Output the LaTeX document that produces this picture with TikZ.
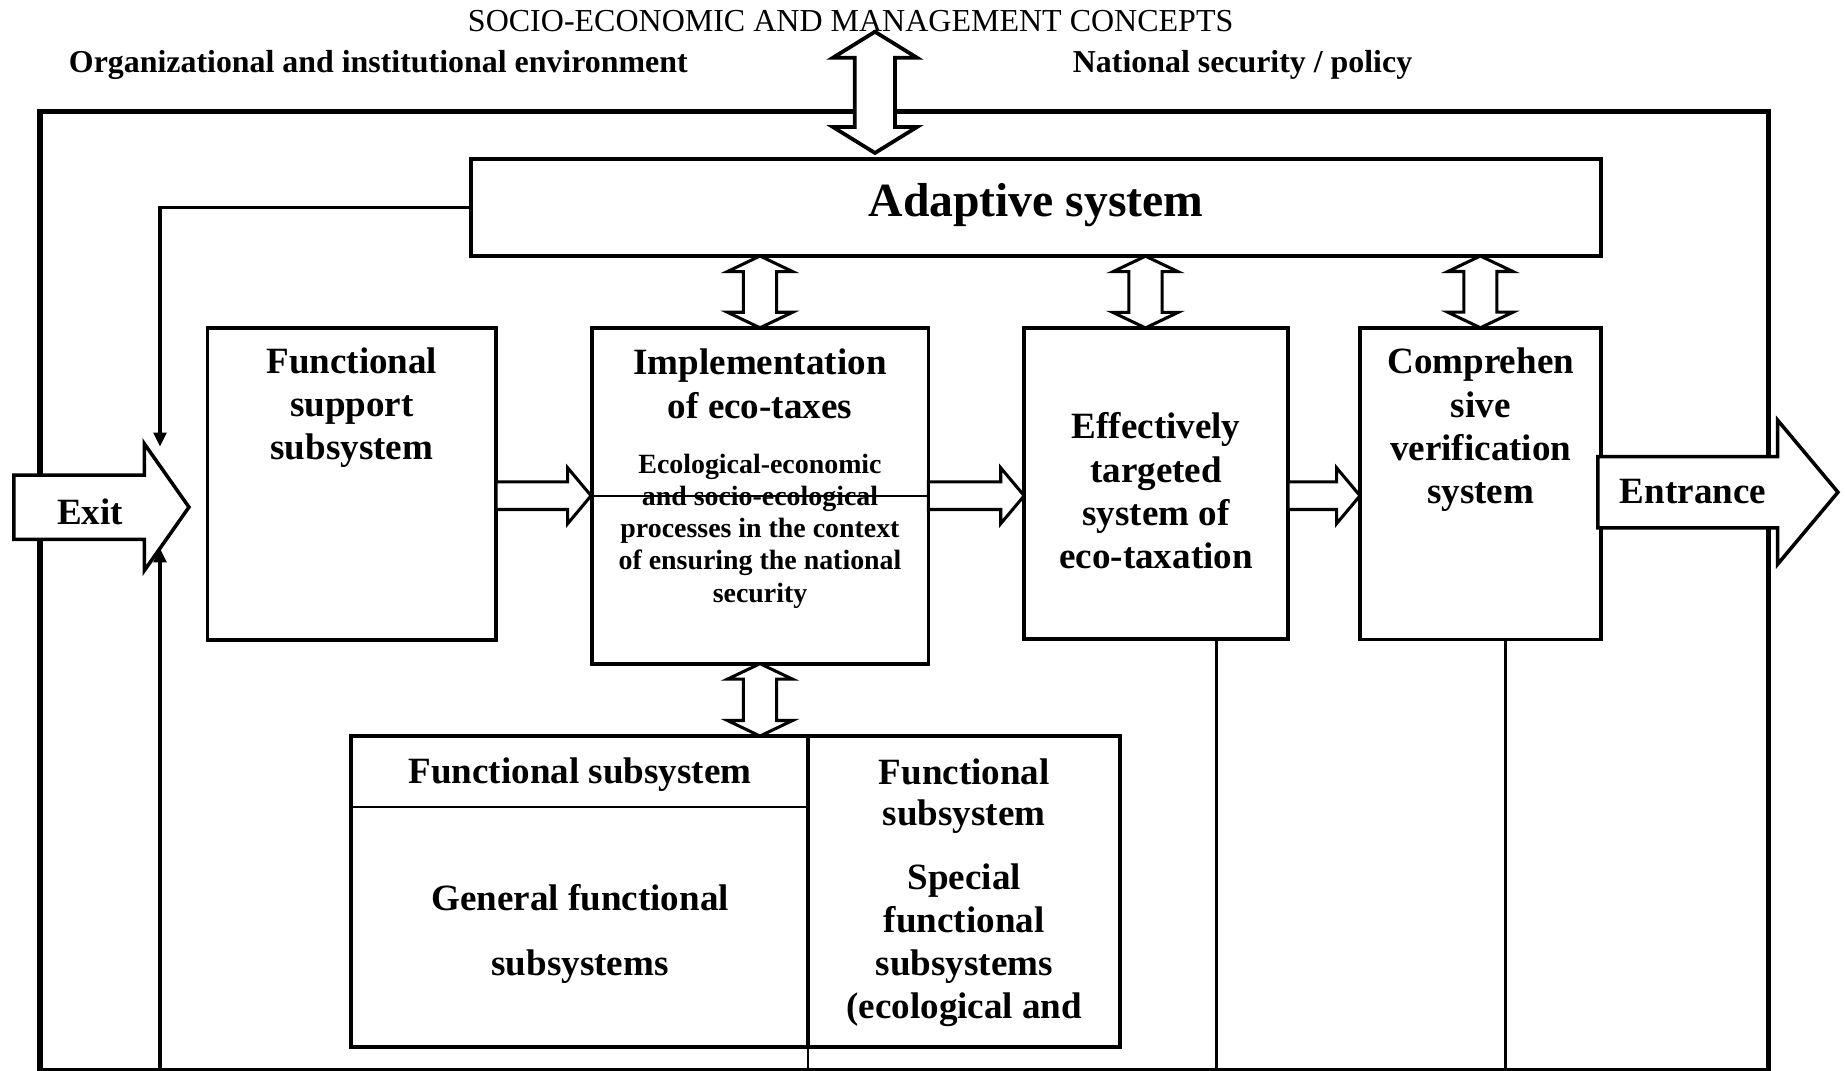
\documentclass[tikz,border=0pt]{standalone}
\usepackage{fontspec}
\setmainfont{Liberation Serif}
\usetikzlibrary{arrows.meta, shapes.arrows, calc}

\tikzset{
  box/.style={draw, line width=3.2pt, inner sep=0pt, outer sep=0pt},
  bigtext/.style={font=\fontsize{31.5}{36.8}\selectfont\bfseries, align=center, inner sep=0pt},
  smalltext/.style={font=\fontsize{23.7}{27.4}\selectfont\bfseries, align=center, inner sep=0pt},
  toptext/.style={font=\fontsize{27.1}{30}\selectfont\bfseries, inner sep=0pt},
  flowarrow/.style={single arrow, draw, fill=white, line width=2.6pt, inner sep=0pt, outer sep=0pt,
    inner ysep=10.4pt, single arrow head extend=12pt, minimum width=44.8pt,
    single arrow tip angle=100, anchor=tail, minimum height=#1},
  gatearrow/.style={single arrow, draw, fill=white, line width=3pt, inner sep=0pt, outer sep=0pt, anchor=tail},
  swaparrow/.style={double arrow, draw, fill=white, line width=2.6pt, inner sep=0pt, outer sep=0pt,
    inner ysep=12.8pt, double arrow head extend=13.6pt, minimum width=52.8pt,
    double arrow tip angle=129, minimum height=61pt, rotate=90},
  link/.style={line width=2.6pt},
  feed/.style={line width=2.6pt, -{Triangle[length=12pt, width=11pt]}}
}

\begin{document}
\begin{tikzpicture}[x=1pt, y=-1pt]
    \useasboundingbox (0,0) rectangle (1568,909.4);

    \node[box, line width=4.6pt, minimum width=1469pt, minimum height=815.3pt, anchor=north west] (frame) at (34,95) {};

    \node[font=\fontsize{27.2}{30}\selectfont, inner sep=0pt, anchor=base] (concepts) at (723,27) {SOCIO-ECONOMIC AND MANAGEMENT CONCEPTS};
    \node[toptext, anchor=base] (environment) at (321.5,61.4) {Organizational and institutional environment};
    \node[toptext, anchor=base] (policy) at (1056,61.4) {National security / policy};

    \node[box, minimum width=960pt, minimum height=82.2pt] (adaptive) at (880.5,176.5) {};
    \node[box, minimum width=245.3pt, minimum height=265.4pt] (support) at (299,411.2) {};
    \node[box, minimum width=286.2pt, minimum height=285.5pt] (ecotaxes) at (645.9,421.3) {};
    \node[box, minimum width=224.2pt, minimum height=264.2pt] (targeted) at (982.5,410.9) {};
    \node[box, minimum width=204.6pt, minimum height=265pt] (verification) at (1258.1,411) {};
    \node[box, minimum width=653.2pt, minimum height=264.5pt, anchor=north west] (functional) at (298.6,625.5) {};

    \node[swaparrow, line width=3.2pt, inner ysep=15.5pt, double arrow head extend=18.5pt, minimum width=68pt,
      double arrow tip angle=116.6, minimum height=103pt] (link_concepts) at (743.6,78.5) {};
    \node[swaparrow] (link_ecotaxes) at ($(adaptive.south -| ecotaxes.north)!0.5!(ecotaxes.north)$) {};
    \node[swaparrow] (link_targeted) at ($(adaptive.south -| targeted.north)!0.5!(targeted.north) + (-9,0)$) {};
    \node[swaparrow] (link_verification) at ($(adaptive.south -| verification.north)!0.5!(verification.north)$) {};
    \node[swaparrow, minimum height=61.5pt] (link_functional) at ($(ecotaxes.south)!0.5!(ecotaxes.south |- functional.north)$) {};

    \node[flowarrow=80.7pt] (to_ecotaxes) at (support.east |- ecotaxes.center) {};
    \node[flowarrow=81.4pt] (to_targeted) at (ecotaxes.east) {};
    \node[flowarrow=61.2pt] (to_verification) at (targeted.east |- ecotaxes.center) {};

    \node[gatearrow, inner ysep=25.8pt, single arrow head extend=26.6pt, minimum width=104.8pt,
      single arrow tip angle=109.7, minimum height=148.8pt] (exit) at (11.8,431) {};
    \node[gatearrow, inner ysep=28.75pt, single arrow head extend=31pt, minimum width=119.5pt,
      single arrow tip angle=100.1, minimum height=204pt] (entrance) at (1358,418.3) {};

    \coordinate (fb_in) at (136,379.6);
    \coordinate (fb_out) at (136,466);
    \draw[feed] (adaptive.west) -| (fb_in);
    \draw[feed] (fb_out |- frame.south) -- (fb_out);
    \draw[link] ([xshift=51.5pt]targeted.south) -- ([xshift=51.5pt]targeted.south |- frame.south);
    \draw[link] ([xshift=21.5pt]verification.south) -- ([xshift=21.5pt]verification.south |- frame.south);

    \coordinate (split) at (686.7,0);
    \coordinate (header) at (0,686);
    \draw[line width=3.2pt] (functional.north -| split) -- (functional.south -| split);
    \draw[line width=1.6pt] (functional.south -| split) -- (split |- frame.south);
    \draw[line width=2pt] (functional.west |- header) -- (split |- header);

    \node[inner sep=0pt, font=\fontsize{40.5}{44}\selectfont\bfseries] (adaptive_text) at (880.5,174.5) {Adaptive system};
    \node[bigtext] (support_text) at (299,346.5) {Functional\\support\\subsystem};
    \node[bigtext] (ecotaxes_title) at (645.9,326.2) {Implementation\\of eco-taxes};
    \node[smalltext] (ecotaxes_text) at (645.9,451.2) {Ecological-economic\\and socio-ecological\\processes in the context\\of ensuring the national\\security};
    \node[bigtext, font=\fontsize{31.5}{36.6}\selectfont\bfseries] (targeted_text) at (982.5,417) {Effectively\\targeted\\system of\\eco-taxation};
    \node[bigtext] (verification_text) at (1258.4,365.5) {Comprehen\\sive\\verification\\system};
    \node[bigtext] (exit_text) at (76.5,434.9) {Exit};
    \node[bigtext] (entrance_text) at (1438.8,417.8) {Entrance};
    \node[bigtext] (functional_head) at (493,658) {Functional subsystem};
    \node[bigtext, font=\fontsize{31.5}{55.2}\selectfont\bfseries] (general_text) at (493,794) {General functional\\subsystems};
    \node[bigtext, font=\fontsize{31.5}{35.4}\selectfont\bfseries] (functional_right) at (819.5,676.5) {Functional\\subsystem};
    \node[bigtext] (special_text) at (819.5,803.3) {Special\\functional\\subsystems\\(ecological and};

    \draw[line width=1.4pt] (ecotaxes.west) -- (ecotaxes.east);

\end{tikzpicture}
\end{document}
